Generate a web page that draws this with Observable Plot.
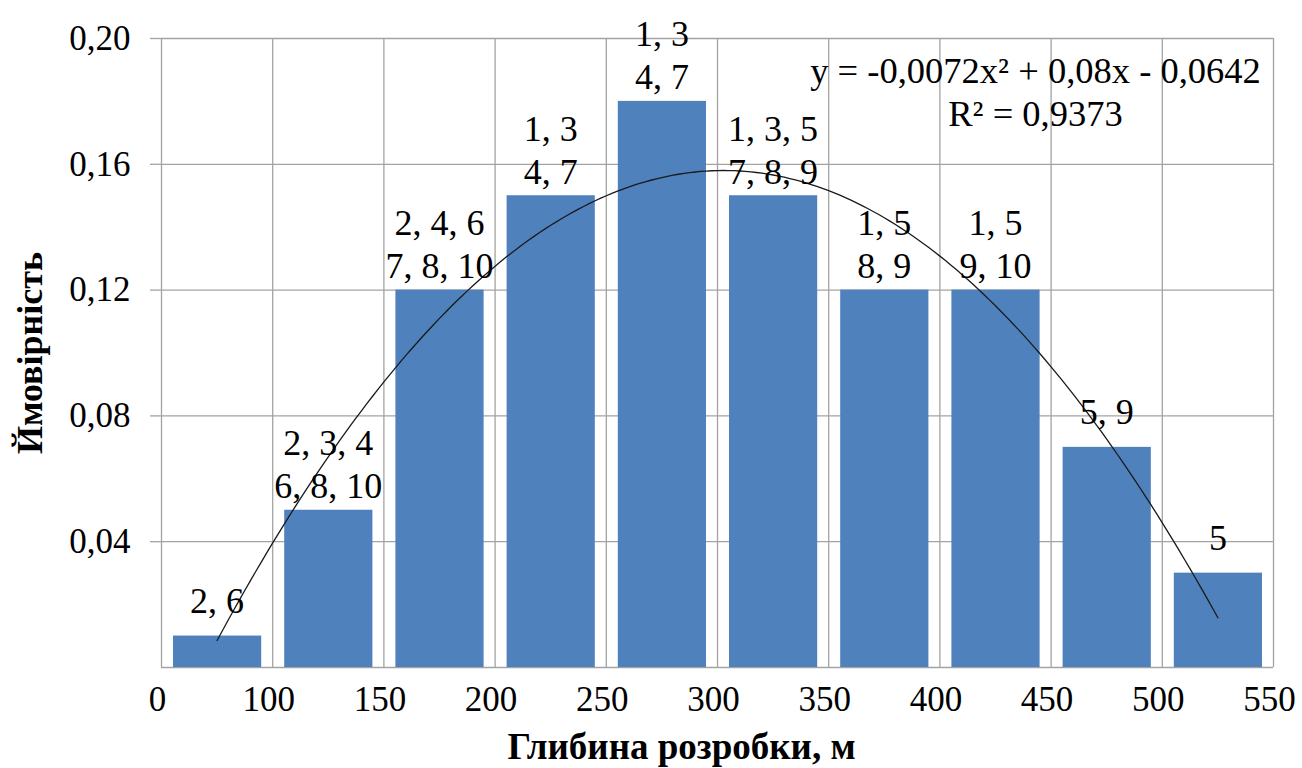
<!DOCTYPE html>
<html>
<head>
<meta charset="utf-8">
<script src="https://cdn.jsdelivr.net/npm/d3@7"></script>
<script src="https://cdn.jsdelivr.net/npm/@observablehq/plot@0.6"></script>
<style>
  body { margin: 0; background: #fff; }
  #chart svg { overflow: visible; }
</style>
</head>
<body>
<div id="chart"></div>
<script>
// Depth-interval boundaries shown under the x axis (one label per gridline)
const depthTicks = ["0", "100", "150", "200", "250", "300", "350", "400", "450", "500", "550"];
// Probability for each depth interval
const probability = [0.01, 0.05, 0.12, 0.15, 0.18, 0.15, 0.12, 0.12, 0.07, 0.03];
// Well numbers listed above each bar
const wellLabels = [
  "2, 6",
  "2, 3, 4\n6, 8, 10",
  "2, 4, 6\n7, 8, 10",
  "1, 3\n4, 7",
  "1, 3\n4, 7",
  "1, 3, 5\n7, 8, 9",
  "1, 5\n8, 9",
  "1, 5\n9, 10",
  "5, 9",
  "5"
];
// Polynomial trend y = a·x² + b·x + c over the interval number x = 1..10
const trendCoeffs = [-0.0072, 0.08, -0.0642];
const trendLabel = ["y = -0,0072x² + 0,08x - 0,0642", "R² = 0,9373"];
const yTicks = [0.04, 0.08, 0.12, 0.16, 0.20];

const bars = probability.map((p, i) => ({i, p, label: wellLabels[i]}));
const singleLine = bars.filter(d => !d.label.includes("\n"));
const doubleLine = bars.filter(d => d.label.includes("\n"));

// Trend curve sampled along the interval numbers (centre of interval k sits at k - 0.5)
const trend = d3.range(1, 10.001, 0.05).map(k => ({
  x: k - 0.5,
  y: trendCoeffs[0] * k * k + trendCoeffs[1] * k + trendCoeffs[2]
}));

const serif = "Liberation Serif, Times New Roman, serif";
const grid = "#a3a3a3";

const labelOpts = {
  x: d => d.i + 0.5,
  y: "p",
  text: "label",
  lineAnchor: "bottom",
  lineHeight: 1.2,
  fontSize: 36,
  fill: "#000"
};

const chart = Plot.plot({
  width: 1302,
  height: 768,
  marginLeft: 161,
  marginRight: 29,
  marginTop: 38,
  marginBottom: 101,
  style: {fontSize: "34px", color: "#000", background: "#fff"},
  x: {domain: [0, depthTicks.length - 1], axis: null},
  y: {domain: [0, 0.20], axis: null},
  marks: [
    Plot.gridY([0, ...yTicks], {stroke: grid, strokeOpacity: 1, strokeWidth: 1.3}),
    Plot.gridX(d3.range(depthTicks.length), {stroke: grid, strokeOpacity: 1, strokeWidth: 1.3}),
    Plot.axisY({
      ticks: yTicks,
      tickSize: 11,
      tickPadding: 20,
      stroke: grid,
      strokeWidth: 1.3,
      tickFormat: d => d.toFixed(2).replace(".", ","),
      label: null,
      fontSize: 35
    }),
    Plot.axisX({
      ticks: d3.range(depthTicks.length),
      tickSize: 0,
      tickPadding: 19,
      dx: -4,
      tickFormat: i => depthTicks[i],
      label: null,
      fontSize: 35
    }),
    Plot.rectY(bars, {
      x1: d => d.i,
      x2: d => d.i + 1,
      y: "p",
      fill: "#4f81bd",
      insetLeft: 12,
      insetRight: 11
    }),
    Plot.line(trend, {x: "x", y: "y", stroke: "#1a1a1a", strokeWidth: 1.3, curve: "linear"}),
    Plot.text(doubleLine, {...labelOpts, dy: -12}),
    Plot.text(singleLine, {...labelOpts, dy: -23}),
    Plot.text([trendLabel.join("\n")], {
      frameAnchor: "top-right",
      textAnchor: "middle",
      lineAnchor: "middle",
      lineHeight: 1.2,
      dx: -238,
      dy: 52,
      fontSize: 36.5,
      fill: "#000"
    }),
    Plot.text(["Глибина розробки, м"], {
      frameAnchor: "bottom",
      textAnchor: "middle",
      lineAnchor: "middle",
      dx: -36,
      dy: 80,
      fontSize: 37,
      fontWeight: "bold",
      fill: "#000"
    }),
    Plot.text(["Ймовірність"], {
      frameAnchor: "left",
      textAnchor: "middle",
      rotate: -90,
      lineAnchor: "middle",
      dx: -131,
      dy: 0,
      fontSize: 36,
      fontWeight: "bold",
      fill: "#000"
    })
  ]
});

// Use the serif face for every label in the figure
d3.select(chart).attr("font-family", serif).style("font-family", serif);
d3.select(chart).selectAll("g, text, tspan").attr("font-family", serif).style("font-family", serif);

document.getElementById("chart").appendChild(chart);
</script>
</body>
</html>
